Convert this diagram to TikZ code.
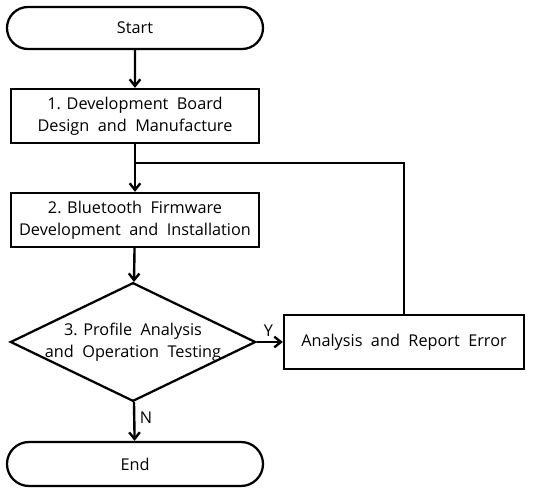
\documentclass[tikz,border=0pt]{standalone}
\usepackage{fontspec}
\setmainfont{Open Sans}
\usetikzlibrary{shapes.geometric,shapes.misc,arrows.meta}
\tikzset{%
  tnode/.style={draw,shape=rounded rectangle,line width=1.7pt,minimum width=192pt,minimum height=31.5pt,inner sep=0},
  pnode/.style={draw,shape=rectangle,line width=1.7pt,minimum width=186pt,minimum height=40.5pt,inner sep=0,align=center},
  dnode/.style={draw,shape=diamond,aspect=2,line width=1.7pt,minimum width=184pt,minimum height=89pt,inner sep=-10pt,align=center},
  fedge/.style={draw,line width=1.8pt,-{Straight Barb[length=5pt,width=8pt]}},
  ledge/.style={draw,line width=1.8pt}
}
\begin{document}
\begin{tikzpicture}[x=0.75pt,y=-0.75pt,font=\fontsize{12.2}{16.5}\selectfont]
      \useasboundingbox (0,0) rectangle (536,488);
      \path
        (135,28) node[tnode] (start) {Start}
        (135,116) node[pnode] (b_1) {1. Development\ \ Board\\Design\ \ and\ \ Manufacture}
        (135,220) node[pnode] (b_2) {2. Bluetooth\ \ Firmware\\Development\ \ and\ \ Installation}
        (133,342) node[dnode] (d_3) {3. Profile\ \ Analysis\\and\ \ Operation\ \ Testing}
        (404,342) node[pnode,minimum width=180pt,minimum height=40pt] (b_err) {Analysis\ \ and\ \ Report\ \ Error}
        (135,464) node[tnode,minimum height=33pt] (end) {End}
        (135,163) coordinate (j);
      \draw[fedge] (start) -- (b_1);
      \draw[fedge] (b_1) -- (b_2);
      \draw[fedge] (b_2) -- (d_3);
      \draw[fedge] (d_3) -- node[above,pos=0.45]{Y} (b_err);
      \draw[fedge] (d_3) -- node[right,pos=0.4]{N} (end);
      \draw[ledge] (b_err.north) -- (b_err.north |- j) -- (j);
    \end{tikzpicture}
\end{document}
